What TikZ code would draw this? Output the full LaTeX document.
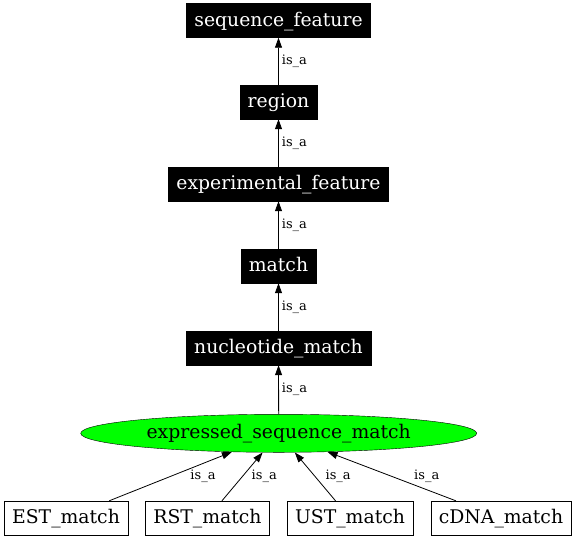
\documentclass[tikz,border=0pt]{standalone}
\usepackage{fontspec}
\setmainfont{DejaVu Serif}
\usetikzlibrary{arrows.meta,shapes.geometric}
\definecolor{gvgreen}{RGB}{0,255,0}

\tikzset{
	term/.style={draw=black, fill=black, text=white, font=\fontsize{18.8}{20}\selectfont,
		inner xsep=8pt, inner ysep=0pt, minimum height=34pt, text height=14pt, text depth=3pt},
	leaf/.style={term, fill=white, text=black},
	root/.style={ellipse, draw=black, fill=gvgreen, font=\fontsize{18.8}{20}\selectfont,
		minimum width=396pt, minimum height=38pt, inner sep=0pt, text height=14pt, text depth=3pt},
	isa/.style={draw=black, line width=0.8pt, -{Triangle[length=10pt,width=7pt]}},
	lbl/.style={font=\fontsize{13}{14}\selectfont, inner sep=1pt}
}

\begin{document}
\begin{tikzpicture}[x=1pt, y=-1pt]
	\useasboundingbox (0,0) rectangle (576,539);
	
	%chain of terms
	\node[term] (seq)    at (278.5,20.5) {sequence\_feature};
	\node[term] (region) at (278.5,102)  {region};
	\node[term] (exp)    at (278.5,184)  {experimental\_feature};
	\node[term] (match)  at (278.5,266)  {match};
	\node[term] (nuc)    at (278.5,348)  {nucleotide\_match};
	\node[root] (esm)    at (278.7,433.3) {expressed\_sequence\_match};
	
	%leaves
	\node[leaf] (est)  at (66,518)    {EST\_match};
	\node[leaf] (rst)  at (207.5,518) {RST\_match};
	\node[leaf] (ust)  at (350,518)   {UST\_match};
	\node[leaf] (cdna) at (501,518)   {cDNA\_match};
	
	%is_a edges up the chain
	\foreach \a/\b in {region/seq, exp/region, match/exp, nuc/match, esm/nuc}{
		\draw[isa] (\a) -- node[lbl, right, xshift=2pt] {is\_a} (\b);}
	
	%is_a edges from the leaves
	\foreach \a/\s in {est/32.5, rst/22, ust/23, cdna/35}{
		\draw[isa] (\a) -- node[lbl, xshift=\s pt] {is\_a} (esm);}
\end{tikzpicture}
\end{document}
